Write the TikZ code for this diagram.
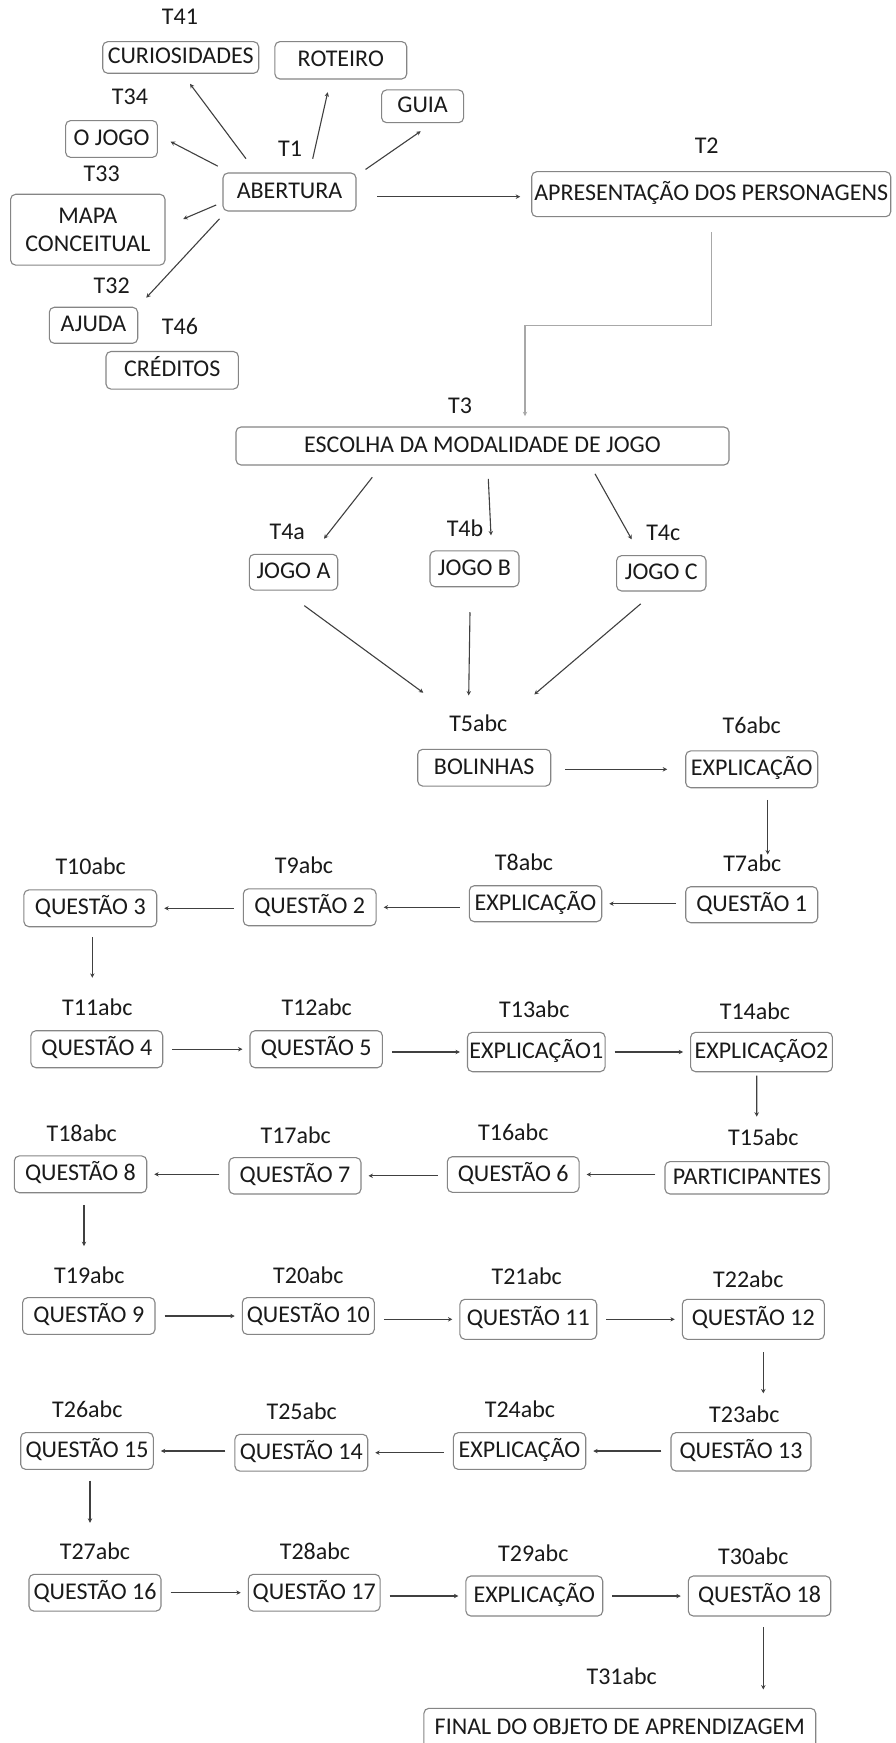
\documentclass[tikz,border=0pt]{standalone}
\usepackage{fontspec}
\setmainfont{Carlito}
\usetikzlibrary{arrows.meta,calc}

\definecolor{borda}{HTML}{858585}
\definecolor{texto}{HTML}{1A1A1A}
\definecolor{linha}{HTML}{404040}
\definecolor{claro}{HTML}{A8A8A8}

\tikzset{
  caixa/.style={draw=borda, rounded corners=2.5pt, line width=0.55pt, inner xsep=1pt, inner ysep=0pt,
    text=texto, text height=0.65em, text depth=0pt, minimum height=18.4pt},
  rotulo/.style={inner sep=0pt, text=texto, text height=0.65em, text depth=0pt},
  seta/.style={draw=linha, line width=0.55pt, -{Stealth[length=2.2pt,width=2.2pt]}},
  ligacao/.style={seta, shorten <=4.5pt, shorten >=3.5pt},
}

\begin{document}
\begin{tikzpicture}[x=0.5pt, y=-0.5pt, font=\fontsize{12}{14.2}\selectfont]
\fill[white] (0,0) rectangle (895,1743);
\useasboundingbox (0,0) rectangle (895,1743);
%\draw[step=50,help lines] (0,0) grid (895,1743); %helper grid

% menu da abertura
\node[rotulo] (t41) at (180,18.3) {T41};
\node[caixa, minimum width=78pt, minimum height=15.8pt] (curios) at (180.7,57.5) {CURIOSIDADES};
\node[caixa, minimum width=65.9pt, minimum height=18.7pt] (roteiro) at (340.8,60.3) {ROTEIRO};
\node[caixa, minimum width=41pt, minimum height=16.4pt] (guia) at (422.6,106.3) {GUIA};
\node[rotulo] (t34) at (130,98.3) {T34};
\node[caixa, minimum width=45.9pt] (ojogo) at (111.5,139) {O JOGO};
\node[rotulo] (t1) at (290,150) {T1};
\node[caixa, minimum width=66.5pt, minimum height=19pt] (abertura) at (289.5,192) {ABERTURA};
\node[rotulo] (t33) at (101.7,175) {T33};
\node[caixa, text height=, text depth=, align=center, minimum width=77.2pt, minimum height=35.4pt] (mapa) at (87.8,229.7) {MAPA\\CONCEITUAL};
\node[rotulo] (t32) at (111.7,286.7) {T32};
\node[caixa, minimum width=44.2pt, minimum height=18pt] (ajuda) at (93.5,325.3) {AJUDA};
\node[rotulo] (t46) at (180,328.3) {T46};
\node[caixa, minimum width=66.2pt, minimum height=18.8pt] (creditos) at (172.2,370.3) {CRÉDITOS};

\node[rotulo] (t2) at (706.7,146.7) {T2};
\node[caixa, minimum width=179.5pt, minimum height=22.5pt] (apres) at (711.2,194.2) {APRESENTAÇÃO DOS PERSONAGENS};

% modalidades
\node[rotulo] (t3) at (460,406.7) {T3};
\node[caixa, minimum width=246.5pt, minimum height=19pt] (escolha) at (482.5,446) {ESCOLHA DA MODALIDADE DE JOGO};
\node[rotulo] (t4a) at (287.3,533.3) {T4a};
\node[caixa, minimum width=44.2pt, minimum height=17.9pt] (jogoa) at (293.5,572.2) {JOGO A};
\node[rotulo] (t4b) at (465,530) {T4b};
\node[caixa, minimum width=44.5pt, minimum height=17.9pt] (jogob) at (474.5,568.8) {JOGO B};
\node[rotulo] (t4c) at (663.3,534.3) {T4c};
\node[caixa, minimum width=44.7pt, minimum height=17.7pt] (jogoc) at (661.3,573.3) {JOGO C};

% sequencia das telas
\node[rotulo] (t5) at (478.3,725) {T5abc};
\node[caixa, minimum width=66.5pt] (bol) at (484.2,767.7) {BOLINHAS};
\node[rotulo] (t6) at (751.7,726.7) {T6abc};
\node[caixa, minimum width=66pt] (e6) at (751.7,769.3) {EXPLICAÇÃO};

\node[rotulo] (t7) at (752.3,865) {T7abc};
\node[caixa, minimum width=66pt, minimum height=18pt] (q1) at (751.7,904.7) {QUESTÃO 1};
\node[rotulo] (t8) at (524,864) {T8abc};
\node[caixa, minimum width=66.2pt, minimum height=18pt] (e8) at (535.5,903.7) {EXPLICAÇÃO};
\node[rotulo] (t9) at (304,867.3) {T9abc};
\node[caixa, minimum width=66.4pt] (q2) at (309.7,907.3) {QUESTÃO 2};
\node[rotulo] (t10) at (90.7,868.3) {T10abc};
\node[caixa, minimum width=66.4pt] (q3) at (90.3,908.3) {QUESTÃO 3};

\node[rotulo] (t11) at (97.3,1009) {T11abc};
\node[caixa, minimum width=65.9pt, minimum height=18.5pt] (q4) at (96.8,1049.2) {QUESTÃO 4};
\node[rotulo] (t12) at (316.7,1009) {T12abc};
\node[caixa, minimum width=66.2pt, minimum height=18.5pt] (q5) at (316.2,1049.2) {QUESTÃO 5};
\node[rotulo] (t13) at (534.3,1010.7) {T13abc};
\node[caixa, minimum width=68.7pt, minimum height=19.7pt] (e13) at (536.3,1052) {EXPLICAÇÃO1};
\node[rotulo] (t14) at (755,1013.3) {T14abc};
\node[caixa, minimum width=70.9pt, minimum height=19.7pt] (e14) at (761.5,1052) {EXPLICAÇÃO2};

\node[rotulo] (t15) at (763.3,1139.3) {T15abc};
\node[caixa, minimum width=82pt, minimum height=16.2pt] (p15) at (747,1177.8) {PARTICIPANTES};
\node[rotulo] (t16) at (513.3,1134.3) {T16abc};
\node[caixa, minimum width=65.9pt, minimum height=17.8pt] (q6) at (513.2,1174.5) {QUESTÃO 6};
\node[rotulo] (t17) at (295.7,1136.7) {T17abc};
\node[caixa, minimum width=66pt, minimum height=18.2pt] (q7) at (295,1175.8) {QUESTÃO 7};
\node[rotulo] (t18) at (81.7,1135) {T18abc};
\node[caixa, minimum width=66.2pt] (q8) at (80.5,1174.3) {QUESTÃO 8};

\node[rotulo] (t19) at (89.3,1276.7) {T19abc};
\node[caixa, minimum width=66.2pt] (q9) at (88.8,1316) {QUESTÃO 9};
\node[rotulo] (t20) at (308.3,1276.7) {T20abc};
\node[caixa, minimum width=66pt] (q10) at (308.3,1316) {QUESTÃO 10};
\node[rotulo] (t21) at (526.7,1277.7) {T21abc};
\node[caixa, minimum width=68.4pt, minimum height=20pt] (q11) at (528.3,1319.3) {QUESTÃO 11};
\node[rotulo] (t22) at (748.3,1281) {T22abc};
\node[caixa, minimum width=71pt, minimum height=20pt] (q12) at (753.3,1319.3) {QUESTÃO 12};

\node[rotulo] (t23) at (744.3,1416) {T23abc};
\node[caixa, minimum width=70pt, minimum height=19.2pt] (q13) at (741,1451.8) {QUESTÃO 13};
\node[rotulo] (t24) at (520,1411) {T24abc};
\node[caixa, minimum width=66.2pt] (e24) at (519.5,1451) {EXPLICAÇÃO};
\node[rotulo] (t25) at (301.7,1412.7) {T25abc};
\node[caixa, minimum width=66.4pt] (q14) at (301.3,1452.7) {QUESTÃO 14};
\node[rotulo] (t26) at (87.3,1411) {T26abc};
\node[caixa, minimum width=66.3pt] (q15) at (87,1451) {QUESTÃO 15};

\node[rotulo] (t27) at (95,1552.7) {T27abc};
\node[caixa, minimum width=66pt] (q16) at (95,1592.7) {QUESTÃO 16};
\node[rotulo] (t28) at (315,1552.7) {T28abc};
\node[caixa, minimum width=65.9pt] (q17) at (314.2,1592.7) {QUESTÃO 17};
\node[rotulo] (t29) at (533.3,1555) {T29abc};
\node[caixa, minimum width=68.4pt, minimum height=20pt] (e29) at (534.3,1596) {EXPLICAÇÃO};
\node[rotulo] (t30) at (753.3,1557.7) {T30abc};
\node[caixa, minimum width=71.2pt, minimum height=20pt] (q18) at (759.5,1596) {QUESTÃO 18};

\node[rotulo] (t31) at (621.7,1678.3) {T31abc};
\node[caixa, minimum width=195.9pt, minimum height=20pt] (final) at (619.8,1728.3) {FINAL DO OBJETO DE APRENDIZAGEM};

% setas da abertura
\draw[seta] ($(abertura.north)+(-43.5,-13.7)$) -- ($(curios.south)+(9.3,10)$);
\draw[seta] ($(abertura.north)+(23.2,-13.7)$) -- ($(roteiro.south)+(-13.1,12.7)$);
\draw[seta] ($(abertura.north east)+(9,-3)$) -- ($(guia.south)+(-1.9,8)$);
\draw[seta] ($(abertura.north west)+(-4.7,-6.3)$) -- ($(ojogo.east)+(12.7,2.7)$);
\draw[seta] ($(abertura.west)+(-6.3,13)$) -- ($(mapa.east)+(17.7,-10.7)$);
\draw[seta] ($(abertura.south west)+(-3,7.3)$) -- ($(ajuda.north east)+(8,-9)$);
\draw[seta] ($(abertura.east)+(20.7,4.7)$) -- ($(apres.west)+(-11,2.5)$);

\draw[seta, draw=claro] ($(apres.south)+(0,15)$) -- ++(0,93.3) -| ($(escolha.north)+(42.5,-10.3)$);

% modalidades
\draw[seta] ($(escolha.south)+(-110.2,11.7)$) -- ($(jogoa.north)+(30.5,-15)$);
\draw[seta] ($(escolha.south)+(5.8,13.3)$) -- ($(jogob.north)+(16.5,-15)$);
\draw[seta] ($(escolha.south)+(112.5,8.3)$) -- ($(jogoc.north)+(-29.6,-15.7)$);

\draw[seta] ($(jogoa.south)+(10.8,15)$) -- ($(bol.north)+(-60.9,-56)$);
\draw[seta] ($(jogob.south)+(-4.5,25)$) -- ($(bol.north)+(-15.5,-53.3)$);
\draw[seta] ($(jogoc.south)+(-20.6,12.3)$) -- ($(bol.north)+(50.1,-54.3)$);

% caminho das questoes
\draw[ligacao, shorten <=7pt, shorten >=9pt] (bol.east |- e6.west) -- (e6.west);
\draw[seta] ($(e6.south)+(16,11.6)$) -- ($(q1.north)+(16,-31.7)$);
\draw[ligacao] (q1.west |- e8.east) -- (e8.east);
\draw[ligacao] (e8.west |- q2.east) -- (q2.east);
\draw[ligacao] (q2.west |- q3.east) -- (q3.east);
\draw[seta] ($(q3.south)+(2,10)$) -- ($(q4.north)+(-4.5,-52.4)$);
\draw[ligacao] (q4.east |- q5.west) -- (q5.west);
\draw[ligacao] (q5.east |- e13.west) -- (e13.west);
\draw[ligacao] (e13.east |- e14.west) -- (e14.west);
\draw[seta] ($(e14.south)+(-4.8,3.3)$) -- ($(p15.north)+(9.7,-44.4)$);
\draw[ligacao] (p15.west |- q6.east) -- (q6.east);
\draw[ligacao] (q6.west |- q7.east) -- (q7.east);
\draw[ligacao] (q7.west |- q8.east) -- (q8.east);
\draw[seta] ($(q8.south)+(3.5,11.6)$) -- ($(q9.north)+(-4.8,-51)$);
\draw[ligacao] (q9.east |- q10.west) -- (q10.west);
\draw[ligacao] (q10.east |- q11.west) -- (q11.west);
\draw[ligacao] (q11.east |- q12.west) -- (q12.west);
\draw[seta] ($(q12.south)+(10,12.4)$) -- ($(q13.north)+(22.3,-38.7)$);
\draw[ligacao] (q13.west |- e24.east) -- (e24.east);
\draw[ligacao] (e24.west |- q14.east) -- (q14.east);
\draw[ligacao] (q14.west |- q15.east) -- (q15.east);
\draw[seta] ($(q15.south)+(3,10.7)$) -- ($(q16.north)+(-5,-51)$);
\draw[ligacao] (q16.east |- q17.west) -- (q17.west);
\draw[ligacao] (q17.east |- e29.west) -- (e29.west);
\draw[ligacao] (e29.east |- q18.west) -- (q18.west);
\draw[seta] ($(q18.south)+(3.8,10.7)$) -- ($(final.north)+(143.5,-18.3)$);
\end{tikzpicture}
\end{document}
